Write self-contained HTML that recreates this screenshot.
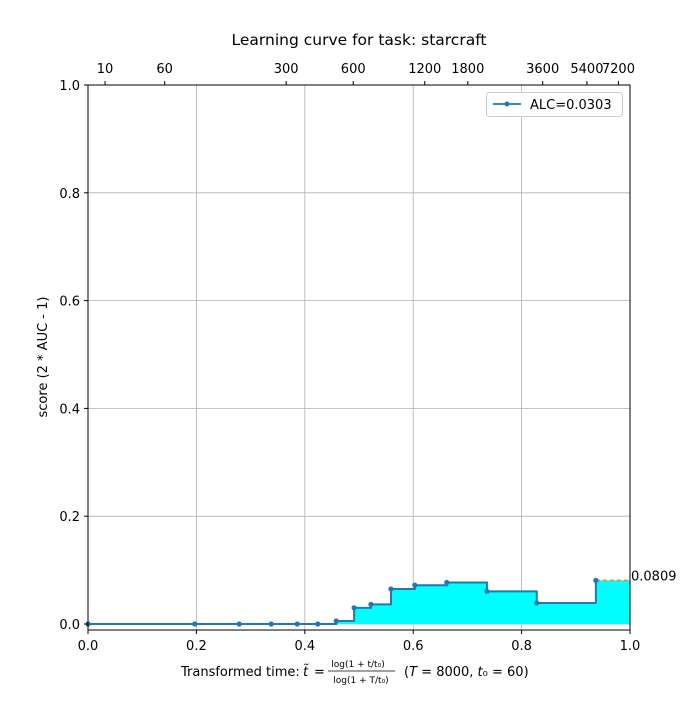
<!DOCTYPE html>
<html><head><meta charset="utf-8"><style>
body{margin:0;background:#fff;font-family:"Liberation Sans","DejaVu Sans",sans-serif;}
svg text{font-family:"DejaVu Sans","Liberation Sans",sans-serif;font-size:13px;fill:#000}
</style></head><body>
<svg id="chart" width="700" height="707" viewBox="0 0 700 707">
<text x="359" y="45" text-anchor="middle" style="font-size:15.5px">Learning curve for task: starcraft</text>
<g id="grid"></g>
<g id="area"></g>
<g id="axes"></g>
<g id="legend">
<rect x="486.5" y="92.5" width="136" height="24" rx="3" fill="#fff" stroke="#ccc"/>
<line x1="493" y1="104" x2="521" y2="104" stroke="#1f77b4" stroke-width="1.8"/>
<circle cx="507" cy="104" r="2.5" fill="#1f77b4"/>
<text x="530" y="109">ALC=0.0303</text>
</g>
<text x="181" y="676">Transformed time:</text>
<text x="303" y="676" font-style="italic">t̃</text>
<text x="314" y="676">=</text>
<text x="358" y="667" text-anchor="middle" style="font-size:9px">log(1 + t/t₀)</text>
<line x1="328" y1="671" x2="395" y2="671" stroke="#000" stroke-width="0.8"/>
<text x="361" y="683" text-anchor="middle" style="font-size:9px">log(1 + T/t₀)</text>
<text x="404" y="676">(<tspan font-style="italic">T</tspan> = 8000,  <tspan font-style="italic">t</tspan>₀ = 60)</text>
<text transform="translate(47,357) rotate(-90)" text-anchor="middle">score (2 * AUC - 1)</text>
</svg>
<script>
const xs = [0, 0.197, 0.279, 0.338, 0.386, 0.424, 0.458, 0.491, 0.522, 0.559, 0.603, 0.662, 0.736, 0.828, 0.937];
const ys = [0, 0, 0, 0, 0, 0, 0.0056, 0.030, 0.0365, 0.065, 0.072, 0.077, 0.0606, 0.039, 0.0809];
const finalScore = 0.0809;
const xTicks = [0, 0.2, 0.4, 0.6, 0.8, 1.0];
const yTicks = [0, 0.2, 0.4, 0.6, 0.8, 1.0];
const topTicks = [10, 60, 300, 600, 1200, 1800, 3600, 5400, 7200];
const T = 8000, t0 = 60;
const L=88,R=630,TOP=85,Y0=624,BOT=630;
const X=v=>L+v*(R-L), Y=v=>Y0-v*(Y0-TOP);
const NS="http://www.w3.org/2000/svg";
function mk(parent,tag,attrs){const e=document.createElementNS(NS,tag);for(const k in attrs)e.setAttribute(k,attrs[k]);document.getElementById(parent).appendChild(e);return e;}
xTicks.forEach(v=>{const l=mk('grid','line',{x1:X(v),x2:X(v),y1:TOP,y2:BOT,stroke:'#b0b0b0','stroke-width':0.8});

});
yTicks.forEach(v=>{const l=mk('grid','line',{x1:L,x2:R,y1:Y(v),y2:Y(v),stroke:'#b0b0b0','stroke-width':0.8});

});
let d=`M${X(xs[0])},${Y(ys[0])}`;
for(let i=1;i<xs.length;i++){d+=` L${X(xs[i])},${Y(ys[i-1])} L${X(xs[i])},${Y(ys[i])}`;}
const fillD=d+` L${X(1)},${Y(finalScore)} L${X(1)},${Y(0)} L${X(0)},${Y(0)} Z`;
const f=mk('area','path',{d:fillD,fill:'#00ffff',stroke:'none'});


const ln=mk('area','path',{d:d,fill:'none',stroke:'#1f77b4','stroke-width':2});


const dl=mk('area','line',{x1:X(xs[xs.length-1]),x2:X(1),y1:Y(finalScore),y2:Y(finalScore),stroke:'#ff7f0e','stroke-width':1.5,'stroke-dasharray':'4,3'});


xs.forEach((v,i)=>{const c=mk('area','circle',{cx:X(v),cy:Y(ys[i]),r:2.6,fill:'#1f77b4'});

});
const ft=mk('area','text',{x:X(1)+1,y:Y(finalScore)});ft.textContent=String(finalScore);


const fr=mk('axes','rect',{x:L,y:TOP,width:R-L,height:BOT-TOP,fill:'none',stroke:'#000','stroke-width':1});


xTicks.forEach(v=>{mk('axes','line',{x1:X(v),x2:X(v),y1:BOT,y2:BOT+4,stroke:'#000'});
const t=mk('axes','text',{x:X(v),y:BOT+20,'text-anchor':'middle'});t.textContent=v.toFixed(1);

});
yTicks.forEach(v=>{mk('axes','line',{x1:L-4,x2:L,y1:Y(v),y2:Y(v),stroke:'#000'});
const t=mk('axes','text',{x:L-8,y:Y(v)+5,'text-anchor':'end'});t.textContent=v.toFixed(1);

});
topTicks.forEach(tv=>{const p=Math.log(1+tv/t0)/Math.log(1+T/t0);
mk('axes','line',{x1:X(p),x2:X(p),y1:TOP-4,y2:TOP,stroke:'#000'});
const t=mk('axes','text',{x:X(p),y:TOP-12,'text-anchor':'middle'});t.textContent=tv;

});
</script>
</body></html>
